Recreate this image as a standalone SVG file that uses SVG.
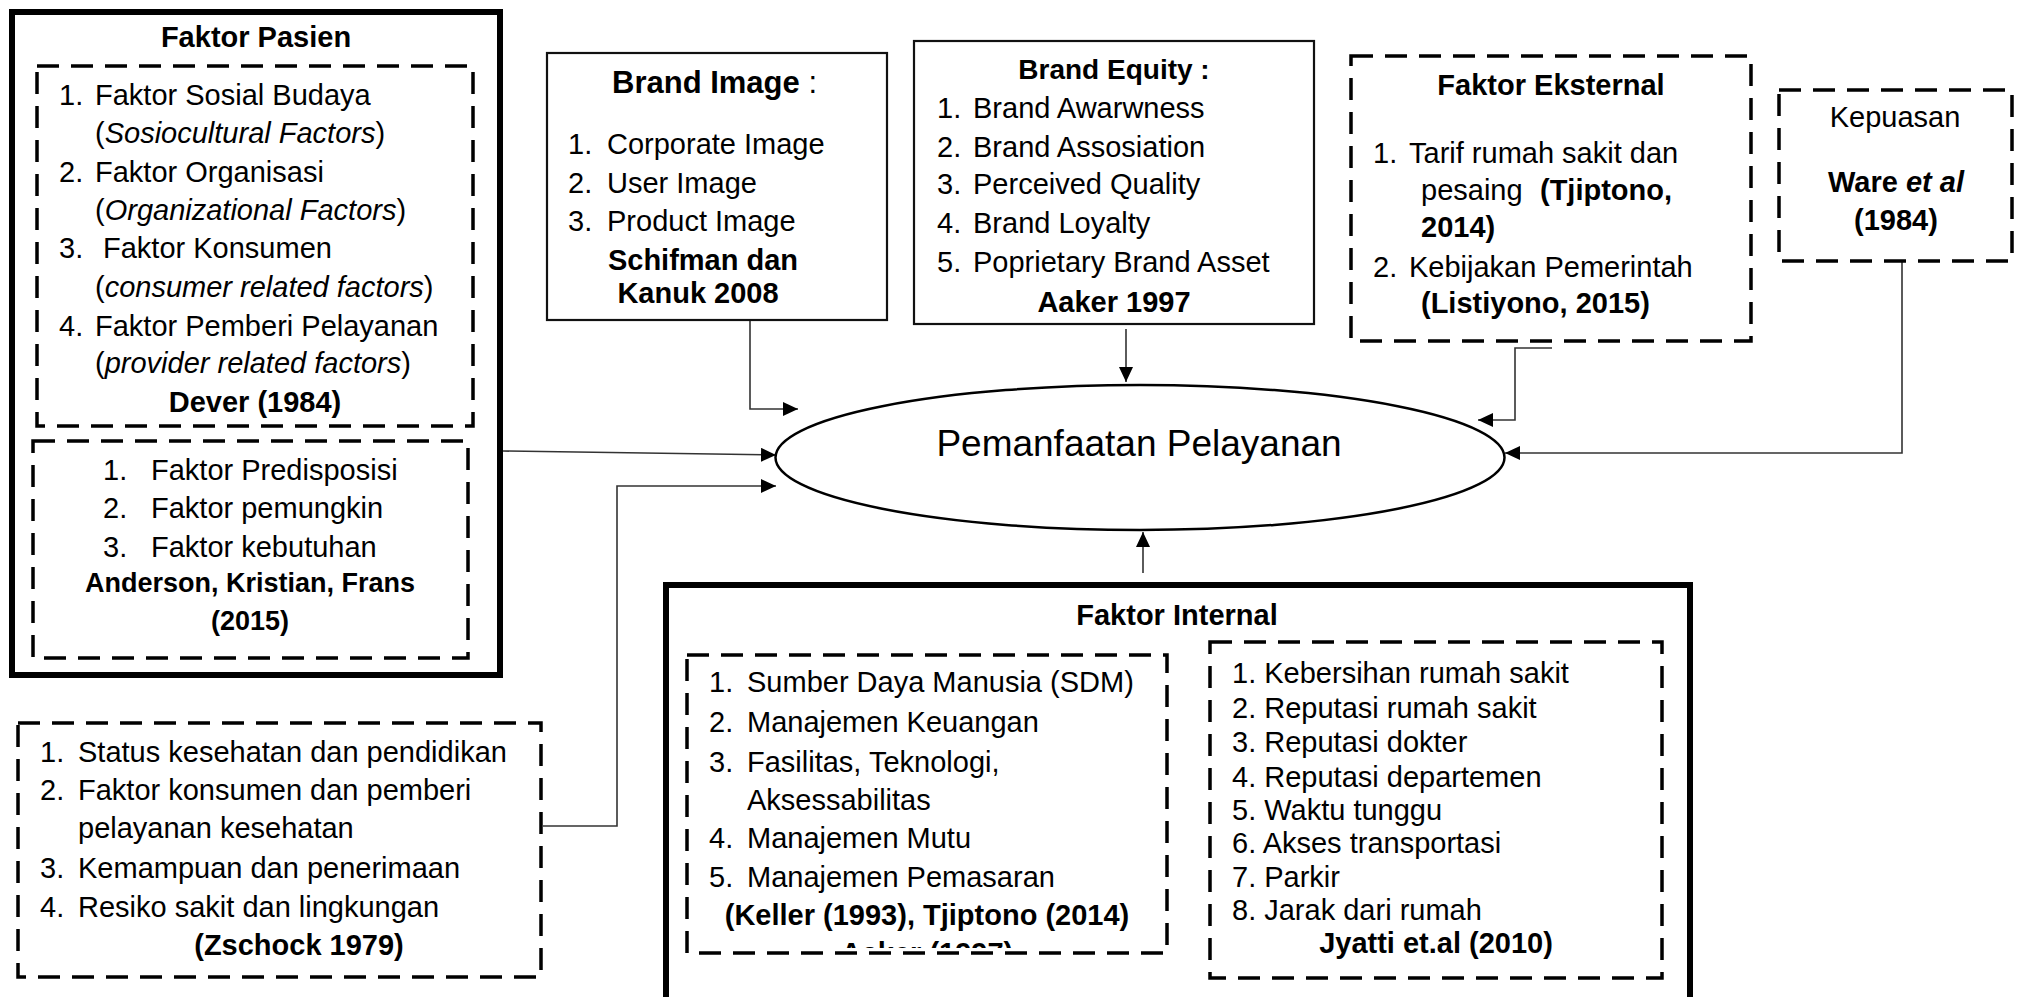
<svg xmlns="http://www.w3.org/2000/svg" width="2020" height="997" viewBox="0 0 2020 997">
  <style>
    text { font-family: "Liberation Sans", Arial, sans-serif; font-size: 29px; fill: #000; }
    .b { font-weight: bold; }
    .c { text-anchor: middle; }
    .i { font-style: italic; }
    .dash { fill: none; stroke: #000; stroke-width: 3.5; stroke-dasharray: 22 12; }
    .solid { fill: none; stroke: #111; stroke-width: 2.2; }
    .thick { fill: none; stroke: #000; stroke-width: 6; }
    .conn { fill: none; stroke: #333; stroke-width: 1.6; marker-end: url(#arrow); }
  </style>
  <defs>
    <marker id="arrow" markerUnits="userSpaceOnUse" markerWidth="16" markerHeight="14" refX="15" refY="7" orient="auto">
      <path d="M0,0 L15,7 L0,14 z" fill="#000"/>
    </marker>
    <clipPath id="overflowA">
      <rect x="690" y="930" width="474" height="18"/>
    </clipPath>
  </defs>
  <rect width="2020" height="997" fill="#fff"/>

  <!-- connectors -->
  <g id="connectors">
    <path class="conn" d="M750,320 V409 H798"/>
    <path class="conn" d="M1126,329 V382"/>
    <path class="conn" d="M1552,348 H1515 V420 H1478"/>
    <path class="conn" d="M1902,261 V453 H1505"/>
    <path class="conn" d="M503,451 L776,455"/>
    <path class="conn" d="M543,826 H617 V486 H776"/>
    <path class="conn" d="M1143,573 V532"/>
  </g>

  <!-- central outcome -->
  <g id="pemanfaatan">
    <ellipse cx="1140" cy="457.5" rx="364.5" ry="72.5" fill="#fff" stroke="#000" stroke-width="2.5"/>
    <text class="c" x="1139" y="456" style="font-size:37px">Pemanfaatan Pelayanan</text>
  </g>

  <!-- patient factors -->
  <g id="faktor-pasien">
    <rect class="thick" x="12" y="12" width="488" height="663"/>
    <text class="b c" x="256" y="47">Faktor Pasien</text>
    <rect class="dash" x="37" y="66" width="436" height="360"/>
    <text x="59" y="105">1.</text><text x="95" y="105">Faktor Sosial Budaya</text>
    <text x="95" y="143">(<tspan class="i">Sosiocultural Factors</tspan>)</text>
    <text x="59" y="182">2.</text><text x="95" y="182">Faktor Organisasi</text>
    <text x="95" y="220">(<tspan class="i">Organizational Factors</tspan>)</text>
    <text x="59" y="258">3.</text><text x="103" y="258">Faktor Konsumen</text>
    <text x="95" y="297">(<tspan class="i">consumer related factors</tspan>)</text>
    <text x="59" y="336">4.</text><text x="95" y="336">Faktor Pemberi Pelayanan</text>
    <text x="95" y="373">(<tspan class="i">provider related factors</tspan>)</text>
    <text class="b c" x="255" y="412">Dever (1984)</text>
    <rect class="dash" x="33" y="441" width="435" height="217"/>
    <text x="103" y="480">1.</text><text x="151" y="480">Faktor Predisposisi</text>
    <text x="103" y="518">2.</text><text x="151" y="518">Faktor pemungkin</text>
    <text x="103" y="557">3.</text><text x="151" y="557">Faktor kebutuhan</text>
    <text class="b c" x="250" y="592" style="font-size:27px">Anderson, Kristian, Frans</text>
    <text class="b c" x="250" y="630" style="font-size:27px">(2015)</text>
  </g>

  <!-- brand image -->
  <g id="brand-image">
    <rect class="solid" x="547" y="53" width="340" height="267"/>
    <text x="612" y="93" style="font-size:31px"><tspan class="b">Brand Image</tspan> :</text>
    <text x="568" y="154">1.</text><text x="607" y="154">Corporate Image</text>
    <text x="568" y="193">2.</text><text x="607" y="193">User Image</text>
    <text x="568" y="231">3.</text><text x="607" y="231">Product Image</text>
    <text class="b c" x="703" y="270">Schifman dan</text>
    <text class="b c" x="698" y="303">Kanuk 2008</text>
  </g>

  <!-- brand equity -->
  <g id="brand-equity">
    <rect class="solid" x="914" y="41" width="400" height="283"/>
    <text class="b c" x="1114" y="79" style="font-size:28px">Brand Equity :</text>
    <text x="937" y="118">1.</text><text x="973" y="118">Brand Awarwness</text>
    <text x="937" y="157">2.</text><text x="973" y="157">Brand Assosiation</text>
    <text x="937" y="194">3.</text><text x="973" y="194">Perceived Quality</text>
    <text x="937" y="233">4.</text><text x="973" y="233">Brand Loyalty</text>
    <text x="937" y="272">5.</text><text x="973" y="272">Poprietary Brand Asset</text>
    <text class="b c" x="1114" y="312">Aaker 1997</text>
  </g>

  <!-- external factors -->
  <g id="faktor-eksternal">
    <rect class="dash" x="1351" y="56" width="400" height="285"/>
    <text class="b c" x="1551" y="95">Faktor Eksternal</text>
    <text x="1373" y="163">1.</text><text x="1409" y="163">Tarif rumah sakit dan</text>
    <text x="1421" y="200">pesaing</text><text class="b" x="1540" y="200">(Tjiptono,</text>
    <text class="b" x="1421" y="237">2014)</text>
    <text x="1373" y="277">2.</text><text x="1409" y="277">Kebijakan Pemerintah</text>
    <text class="b" x="1421" y="313">(Listiyono, 2015)</text>
  </g>

  <!-- satisfaction -->
  <g id="kepuasan">
    <rect class="dash" x="1779" y="90" width="233" height="171"/>
    <text class="c" x="1895" y="127">Kepuasan</text>
    <text class="b c" x="1896" y="192">Ware <tspan class="i">et al</tspan></text>
    <text class="b c" x="1896" y="230">(1984)</text>
  </g>

  <!-- Zschock factors -->
  <g id="faktor-zschock">
    <rect class="dash" x="18" y="723" width="523" height="254"/>
    <text x="40" y="762">1.</text><text x="78" y="762">Status kesehatan dan pendidikan</text>
    <text x="40" y="800">2.</text><text x="78" y="800">Faktor konsumen dan pemberi</text>
    <text x="78" y="838">pelayanan kesehatan</text>
    <text x="40" y="878">3.</text><text x="78" y="878">Kemampuan dan penerimaan</text>
    <text x="40" y="917">4.</text><text x="78" y="917">Resiko sakit dan lingkungan</text>
    <text class="b c" x="299" y="955">(Zschock 1979)</text>
  </g>

  <!-- internal factors -->
  <g id="faktor-internal">
    <rect class="thick" x="666" y="585" width="1024" height="500"/>
    <text class="b c" x="1177" y="625">Faktor Internal</text>
    <rect class="dash" x="687" y="655" width="480" height="298"/>
    <text x="709" y="692">1.</text><text x="747" y="692">Sumber Daya Manusia (SDM)</text>
    <text x="709" y="732">2.</text><text x="747" y="732">Manajemen Keuangan</text>
    <text x="709" y="772">3.</text><text x="747" y="772">Fasilitas, Teknologi,</text>
    <text x="747" y="810">Aksessabilitas</text>
    <text x="709" y="848">4.</text><text x="747" y="848">Manajemen Mutu</text>
    <text x="709" y="887">5.</text><text x="747" y="887">Manajemen Pemasaran</text>
    <text class="b c" x="927" y="925">(Keller (1993), Tjiptono (2014)</text>
    <text class="b c" x="927" y="963" clip-path="url(#overflowA)">Aaker (1997)</text>
    <rect class="dash" x="1210" y="642" width="452" height="336"/>
    <text x="1232" y="683">1. Kebersihan rumah sakit</text>
    <text x="1232" y="718">2. Reputasi rumah sakit</text>
    <text x="1232" y="752">3. Reputasi dokter</text>
    <text x="1232" y="787">4. Reputasi departemen</text>
    <text x="1232" y="820">5. Waktu tunggu</text>
    <text x="1232" y="853">6. Akses transportasi</text>
    <text x="1232" y="887">7. Parkir</text>
    <text x="1232" y="920">8. Jarak dari rumah</text>
    <text class="b c" x="1436" y="953">Jyatti et.al (2010)</text>
  </g>
</svg>
